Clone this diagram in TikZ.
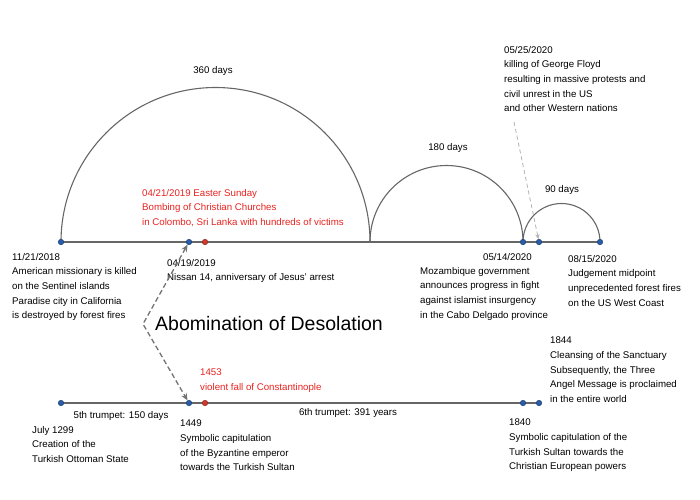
\documentclass[tikz,border=0pt]{standalone}
\usepackage{fontspec}
\setmainfont{Liberation Sans}
\usepackage{tikz}
\usetikzlibrary{positioning, arrows.meta}
\definecolor{dotblue}{HTML}{2A5CA8}
\definecolor{dotred}{HTML}{D0392B}
\definecolor{evred}{HTML}{E8231F}

\begin{document}
\begin{tikzpicture}[
    x=1pt, y=-1pt,
    axis/.style={draw=black!60, line width=1.1pt},
    arcline/.style={draw=black!60, line width=1.1pt},
    bdot/.style={circle, fill=dotblue, draw=dotblue!70!black, inner sep=0pt, minimum size=5.5pt, line width=0.5pt},
    rdot/.style={circle, fill=dotred, draw=dotred!70!black, inner sep=0pt, minimum size=5.5pt, line width=0.5pt},
    lbl/.style={anchor=north west, inner sep=0pt, align=left, font=\fontsize{9.7}{14.6}\selectfont},
    redlbl/.style={lbl, text=evred},
    span/.style={inner sep=0pt, font=\fontsize{9.7}{11}\selectfont},
    link/.style={draw=black!55, line width=1.3pt, dash pattern=on 5pt off 3pt, {Stealth[length=7pt, width=6pt]}-{Stealth[length=7pt, width=6pt]}},
    hint/.style={draw=black!30, line width=0.8pt, dash pattern=on 4pt off 3pt, -{Stealth[length=5pt, width=4.5pt]}}
]
\useasboundingbox (0,0) rectangle (700,499);

\draw[axis] (61,242) -- (600,242);
\draw[axis] (61,403) -- (539,403);

\draw[arcline] (61,242) arc[start angle=180, end angle=360, radius=154.5];
\draw[arcline] (370,242) arc[start angle=180, end angle=360, radius=76.5];
\draw[arcline] (523,242) arc[start angle=180, end angle=360, radius=38.5];

\node[bdot] (d2018) at (61,242) {};
\node[bdot] (d0419) at (189,242) {};
\node[rdot] (d0421) at (205,242) {};
\node[bdot] (d0514) at (523,242) {};
\node[bdot] (d0525) at (539,242) {};
\node[bdot] (d0815) at (600,242) {};

\node[bdot] (d1299) at (61,403) {};
\node[bdot] (d1449) at (189,403) {};
\node[rdot] (d1453) at (205,403) {};
\node[bdot] (d1840) at (523,403) {};
\node[bdot] (d1844) at (539,403) {};

\node[span] (p360) at (213,71) {360 days};
\node[span] (p180) at (448,148) {180 days};
\node[span] (p90) at (562,190) {90 days};

\node[redlbl] (easter) at (142,189) {04/21/2019 Easter Sunday\\Bombing of Christian Churches\\in Colombo, Sri Lanka with hundreds of victims};
\node[lbl] (t2018) at (12,253) {11/21/2018\\American missionary is killed\\on the Sentinel islands\\Paradise city in California\\is destroyed by forest fires};
\node[lbl] (t0419) at (167,259) {04/19/2019\\Nissan 14, anniversary of Jesus' arrest};
\node[lbl] (t0514) at (483,253) {05/14/2020};
\node[lbl] (t0514b) at (420,267) {Mozambique government\\announces progress in fight\\against islamist insurgency\\in the Cabo Delgado province};
\node[lbl] (t0815) at (568,255) {08/15/2020\\Judgement midpoint\\unprecedented forest fires\\on the US West Coast};
\node[lbl] (t0525) at (504,46) {05/25/2020\\killing of George Floyd\\resulting in massive protests and\\civil unrest in the US\\and other Western nations};

\node[anchor=west, inner sep=0pt, font=\fontsize{19.5}{22}\selectfont] (title) at (155,324) {Abomination of Desolation};

\node[span] (trump5) at (121,416) {5th trumpet: 150 days};
\node[span] (trump6) at (348,413) {6th trumpet: 391 years};
\node[redlbl] (t1453) at (200,369) {1453\\violent fall of Constantinople};
\node[lbl] (t1299) at (32,426) {July 1299\\Creation of the\\Turkish Ottoman State};
\node[lbl] (t1449) at (180,420) {1449\\Symbolic capitulation\\of the Byzantine emperor\\towards the Turkish Sultan};
\node[lbl] (t1840) at (509,419) {1840\\Symbolic capitulation of the\\Turkish Sultan towards the\\Christian European powers};
\node[lbl] (t1844) at (550,337) {1844\\Cleansing of the Sanctuary\\Subsequently, the Three\\Angel Message is proclaimed\\in the entire world};

\coordinate (bend) at (143,324);
\coordinate (hintstart) at (514,122);
\draw[link] (d0419) -- (bend) -- (d1449);
\draw[hint] (hintstart) -- (d0525);
\end{tikzpicture}
\end{document}
